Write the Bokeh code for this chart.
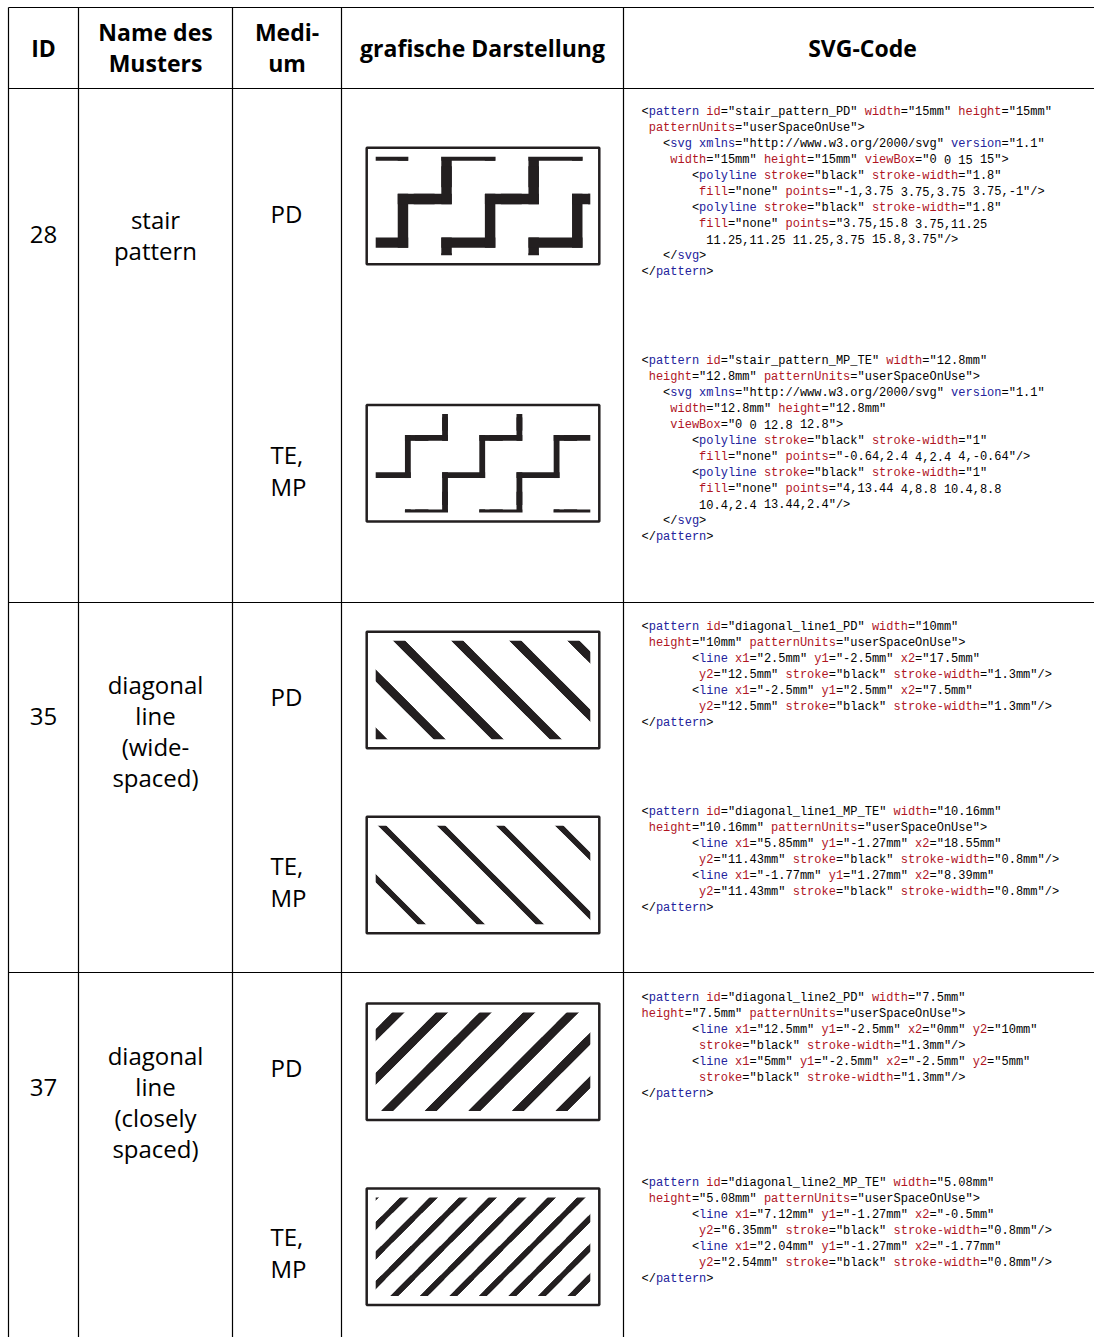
import re
import math
from bokeh.plotting import figure
from bokeh.models import Range1d, ColumnDataSource
from bokeh.core.properties import value
from bokeh.embed import file_html
from bokeh.resources import INLINE

# ---------------- data ----------------
HEADERS = [["ID"], ["Name des", "Musters"], ["Medi-", "um"], ["grafische Darstellung"], ["SVG-Code"]]
IDS = ["28", "35", "37"]
NAMES = [["stair", "pattern"],
         ["diagonal", "line", "(wide-", "spaced)"],
         ["diagonal", "line", "(closely", "spaced)"]]
MEDIA = [["PD"], ["TE,", "MP"]]

# pattern definitions in mm, as given in the SVG code column
PAT_TILE = [15.0, 12.8, 10.0, 10.16, 7.5, 5.08]
PAT_STROKE = [1.8, 1.0, 1.3, 0.8, 1.3, 0.8]
PAT_SHAPES = [
    [[(-1, 3.75), (3.75, 3.75), (3.75, -1)],
     [(3.75, 15.8), (3.75, 11.25), (11.25, 11.25), (11.25, 3.75), (15.8, 3.75)]],
    [[(-0.64, 2.4), (4, 2.4), (4, -0.64)],
     [(4, 13.44), (4, 8.8), (10.4, 8.8), (10.4, 2.4), (13.44, 2.4)]],
    [[(2.5, -2.5), (17.5, 12.5)], [(-2.5, 2.5), (7.5, 12.5)]],
    [[(5.85, -1.27), (18.55, 11.43)], [(-1.77, 1.27), (8.39, 11.43)]],
    [[(12.5, -2.5), (0, 10)], [(5, -2.5), (-2.5, 5)]],
    [[(7.12, -1.27), (-0.5, 6.35)], [(2.04, -1.27), (-1.77, 2.54)]],
]

CODE_28_PD = [
    '<pattern id="stair_pattern_PD" width="15mm" height="15mm"',
    ' patternUnits="userSpaceOnUse">',
    '   <svg xmlns="http://www.w3.org/2000/svg" version="1.1"',
    '    width="15mm" height="15mm" viewBox="0 0 15 15">',
    '       <polyline stroke="black" stroke-width="1.8"',
    '        fill="none" points="-1,3.75 3.75,3.75 3.75,-1"/>',
    '       <polyline stroke="black" stroke-width="1.8"',
    '        fill="none" points="3.75,15.8 3.75,11.25',
    '         11.25,11.25 11.25,3.75 15.8,3.75"/>',
    '   </svg>',
    '</pattern>',
]
CODE_28_TE = [
    '<pattern id="stair_pattern_MP_TE" width="12.8mm"',
    ' height="12.8mm" patternUnits="userSpaceOnUse">',
    '   <svg xmlns="http://www.w3.org/2000/svg" version="1.1"',
    '    width="12.8mm" height="12.8mm"',
    '    viewBox="0 0 12.8 12.8">',
    '       <polyline stroke="black" stroke-width="1"',
    '        fill="none" points="-0.64,2.4 4,2.4 4,-0.64"/>',
    '       <polyline stroke="black" stroke-width="1"',
    '        fill="none" points="4,13.44 4,8.8 10.4,8.8',
    '        10.4,2.4 13.44,2.4"/>',
    '   </svg>',
    '</pattern>',
]
CODE_35_PD = [
    '<pattern id="diagonal_line1_PD" width="10mm"',
    ' height="10mm" patternUnits="userSpaceOnUse">',
    '       <line x1="2.5mm" y1="-2.5mm" x2="17.5mm"',
    '        y2="12.5mm" stroke="black" stroke-width="1.3mm"/>',
    '       <line x1="-2.5mm" y1="2.5mm" x2="7.5mm"',
    '        y2="12.5mm" stroke="black" stroke-width="1.3mm"/>',
    '</pattern>',
]
CODE_35_TE = [
    '<pattern id="diagonal_line1_MP_TE" width="10.16mm"',
    ' height="10.16mm" patternUnits="userSpaceOnUse">',
    '       <line x1="5.85mm" y1="-1.27mm" x2="18.55mm"',
    '        y2="11.43mm" stroke="black" stroke-width="0.8mm"/>',
    '       <line x1="-1.77mm" y1="1.27mm" x2="8.39mm"',
    '        y2="11.43mm" stroke="black" stroke-width="0.8mm"/>',
    '</pattern>',
]
CODE_37_PD = [
    '<pattern id="diagonal_line2_PD" width="7.5mm"',
    'height="7.5mm" patternUnits="userSpaceOnUse">',
    '       <line x1="12.5mm" y1="-2.5mm" x2="0mm" y2="10mm"',
    '        stroke="black" stroke-width="1.3mm"/>',
    '       <line x1="5mm" y1="-2.5mm" x2="-2.5mm" y2="5mm"',
    '        stroke="black" stroke-width="1.3mm"/>',
    '</pattern>',
]
CODE_37_TE = [
    '<pattern id="diagonal_line2_MP_TE" width="5.08mm"',
    ' height="5.08mm" patternUnits="userSpaceOnUse">',
    '       <line x1="7.12mm" y1="-1.27mm" x2="-0.5mm"',
    '        y2="6.35mm" stroke="black" stroke-width="0.8mm"/>',
    '       <line x1="2.04mm" y1="-1.27mm" x2="-1.77mm"',
    '        y2="2.54mm" stroke="black" stroke-width="0.8mm"/>',
    '</pattern>',
]
CODE = [CODE_28_PD, CODE_28_TE, CODE_35_PD, CODE_35_TE, CODE_37_PD, CODE_37_TE]

# ---------------- layout / style ----------------
X0, Y0, W, H = 0, 0, 1094, 1337
INK = "#231f20"
BLUE = "#22229c"
RED = "#b0151f"
COL_X = [8, 78, 232, 341, 623]
ROW_Y = [7, 88, 602, 972]
HEAD_CX = [43, 155, 286.5, 482, 862]
HEAD_BASE = {1: [47.5], 2: [31, 62.5]}
ID_CX, NAME_CX, MED_X = 43, 155, 270
ID_BASE = [233.5, 716, 1087]
NAME_BASE0 = [218.5, 683.5, 1054.5]
NAME_GAP = 31.3
MED_BASE = [[213, 454], [696, 865], [1067, 1236]]
MED_GAP = 31.5
CODE_X0, CW, CODE_GAP = 641, 7.2, 16
CODE_Y0 = [111, 360, 626, 811, 997, 1182]
FRAME_LEFT, FRAME_W, FRAME_H, INSET = 366.2, 232.6, 116.6, 9
FRAME_TOP = [147.2, 404.5, 631.2, 816.2, 1002.9, 1188]
PHASE = [(424.25, 176.75), (421.3, 423.5), (659.85, 640), (871.4, 825), (384.6, 1010.7), (400.5, 1195.7)]
SCALE = 5.81
CAPS = ["square", "square", "butt", "butt", "butt", "butt"]
EXTRA_W = [0, 0, 0.6, 0.8, 0.6, 0.8]

p = figure(width=W, height=H, x_range=Range1d(X0, X0 + W), y_range=Range1d(Y0 + H, Y0),
           output_backend="svg", toolbar_location=None, x_axis_location=None,
           y_axis_location=None, min_border=0)
p.grid.visible = False
p.outline_line_color = None
p.background_fill_color = "white"
p.border_fill_color = "white"

# table rules
p.segment(x0=COL_X, y0=[ROW_Y[0]] * len(COL_X), x1=COL_X, y1=[Y0 + H] * len(COL_X),
          line_color="black", line_width=1.2)
p.segment(x0=[COL_X[0]] * len(ROW_Y), y0=ROW_Y, x1=[X0 + W] * len(ROW_Y), y1=ROW_Y,
          line_color="black", line_width=1.2)

# header
hx, hy, ht = [], [], []
for cx, lines in zip(HEAD_CX, HEADERS):
    for yb, t in zip(HEAD_BASE[len(lines)], lines):
        hx.append(cx); hy.append(yb); ht.append(t)
p.text(x=hx, y=hy, text=ht, text_font=value("Open Sans"), text_font_style="bold",
       text_font_size="23px", text_align="center", text_baseline="alphabetic", text_color="black")

# body texts
bx, by, bt = [], [], []
for r in range(3):
    bx.append(ID_CX); by.append(ID_BASE[r]); bt.append(IDS[r])
    for k, t in enumerate(NAMES[r]):
        bx.append(NAME_CX); by.append(NAME_BASE0[r] + k * NAME_GAP); bt.append(t)
p.text(x=bx, y=by, text=bt, text_font=value("Open Sans"), text_font_size="24px",
       text_align="center", text_baseline="alphabetic", text_color="black")
mx, my, mt = [], [], []
for r in range(3):
    for m, lines in enumerate(MEDIA):
        for k, t in enumerate(lines):
            mx.append(MED_X); my.append(MED_BASE[r][m] + k * MED_GAP); mt.append(t)
p.text(x=mx, y=my, text=mt, text_font=value("Open Sans"), text_font_size="24px",
       text_align="left", text_baseline="alphabetic", text_color="black")


# code column
def colorize(line):
    cols = ["black"] * len(line)
    for m in re.finditer(r'</?([A-Za-z]+)', line):
        for i in range(m.start(1), m.end(1)):
            cols[i] = BLUE
    for m in re.finditer(r'([A-Za-z][\w-]*)=', line):
        c = BLUE if m.group(1) in ("xmlns", "version") else RED
        for i in range(m.start(1), m.end(1)):
            cols[i] = c
    runs, i = [], 0
    while i < len(line):
        if line[i] == " ":
            i += 1
            continue
        j = i
        while j < len(line) and line[j] != " " and cols[j] == cols[i]:
            j += 1
        runs.append((i, line[i:j], cols[i]))
        i = j
    return runs


cx, cy, ct, cc = [], [], [], []
for b, block in enumerate(CODE):
    for li, line in enumerate(block):
        for col, txt, colr in colorize(line):
            cx.append(CODE_X0 + col * CW)
            cy.append(CODE_Y0[b] + li * CODE_GAP)
            ct.append(txt)
            cc.append(colr)
p.text(x="x", y="y", text="text", text_color="c",
       source=ColumnDataSource(dict(x=cx, y=cy, text=ct, c=cc)),
       text_font=value("Liberation Mono"), text_font_size="12px",
       text_align="left", text_baseline="middle")


# pattern drawings
def clip(x0, y0, x1, y1, L, R, T, B):
    dx, dy = x1 - x0, y1 - y0
    t0, t1 = 0.0, 1.0
    for pp, qq in ((-dx, x0 - L), (dx, R - x0), (-dy, y0 - T), (dy, B - y0)):
        if pp == 0:
            if qq < 0:
                return None
        else:
            t = qq / pp
            if pp < 0:
                t0 = max(t0, t)
            else:
                t1 = min(t1, t)
    if t0 >= t1:
        return None
    return (x0 + t0 * dx, y0 + t0 * dy, x0 + t1 * dx, y0 + t1 * dy)


for k in range(6):
    s = SCALE
    tile = PAT_TILE[k]
    tp = s * tile
    w_px = PAT_STROKE[k] * s + EXTRA_W[k]
    ft = FRAME_TOP[k]
    L, R = FRAME_LEFT + INSET, FRAME_LEFT + FRAME_W - INSET
    T, B = ft + INSET, ft + FRAME_H - INSET
    ox, oy = PHASE[k]
    e = w_px / 2
    segs = ([], [], [], [])
    i0, i1 = math.floor((L - ox) / tp) - 2, math.ceil((R - ox) / tp) + 2
    j0, j1 = math.floor((T - oy) / tp) - 2, math.ceil((B - oy) / tp) + 2
    for i in range(i0, i1 + 1):
        for j in range(j0, j1 + 1):
            for shape in PAT_SHAPES[k]:
                for (ax, ay), (bx_, by_) in zip(shape[:-1], shape[1:]):
                    c = clip(ox + s * (ax + tile * i), oy + s * (ay + tile * j),
                             ox + s * (bx_ + tile * i), oy + s * (by_ + tile * j),
                             L - e, R + e, T - e, B + e)
                    if c:
                        for lst, v in zip(segs, c):
                            lst.append(v)
    p.segment(x0=segs[0], y0=segs[1], x1=segs[2], y1=segs[3], line_color=INK,
              line_width=w_px, line_cap=CAPS[k])
    fl, fr, fb = FRAME_LEFT - 6, FRAME_LEFT + FRAME_W + 6, ft + FRAME_H + 6
    p.quad(left=[fl, fl, fl, R], right=[fr, fr, L, fr], top=[ft - 6, B, ft - 6, ft - 6],
           bottom=[T, fb, fb, fb], fill_color="white", line_color=None)
    p.quad(left=[FRAME_LEFT], right=[FRAME_LEFT + FRAME_W], top=[ft], bottom=[ft + FRAME_H],
           fill_color=None, line_color=INK, line_width=2.5)

open("out.html", "w").write(file_html(p, INLINE))
